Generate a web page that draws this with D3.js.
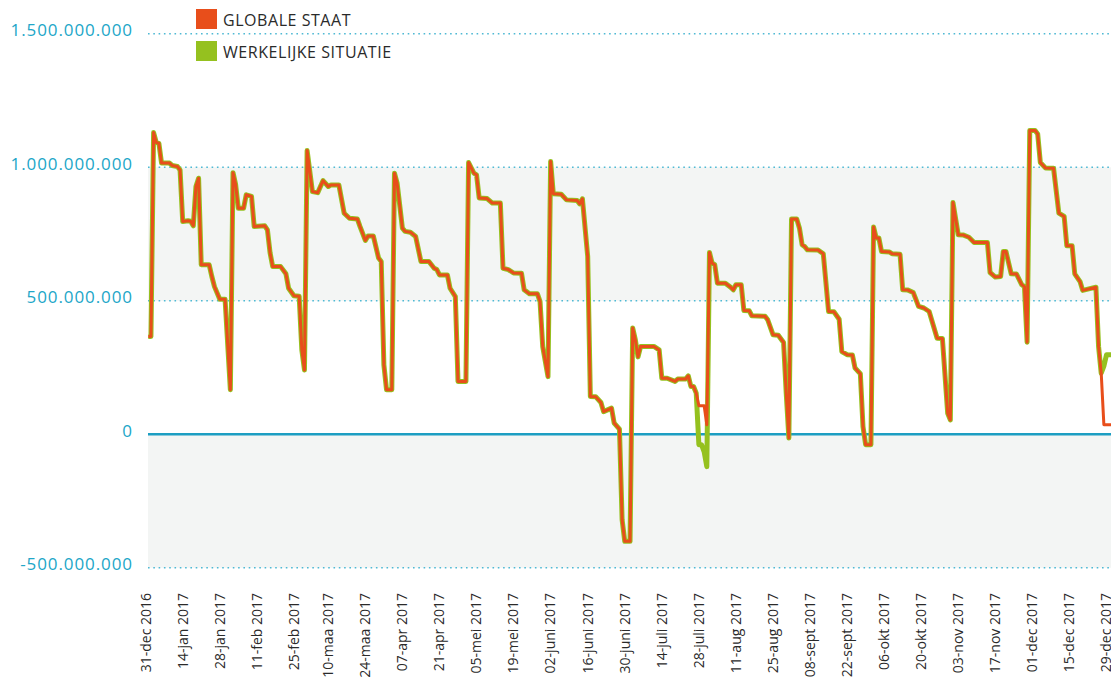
<!DOCTYPE html>
<html><head><meta charset="utf-8">
<script src="https://cdn.jsdelivr.net/npm/d3@7"></script>
<style>
html,body{margin:0;padding:0;background:#fff;overflow:hidden}
svg{display:block;font-family:"Open Sans",sans-serif}
</style></head><body>
<svg id="chart" width="1111" height="682"></svg>
<script>
// ---- DATA (values in millions) ----
const dates = [
"2016-12-31","2017-01-01","2017-01-02","2017-01-03","2017-01-04","2017-01-05","2017-01-08","2017-01-09","2017-01-11","2017-01-12",
"2017-01-13","2017-01-15","2017-01-16","2017-01-17","2017-01-18","2017-01-19","2017-01-20","2017-01-23","2017-01-24","2017-01-25",
"2017-01-27","2017-01-29","2017-01-31","2017-02-01","2017-02-02","2017-02-03","2017-02-05","2017-02-06","2017-02-08","2017-02-09",
"2017-02-13","2017-02-14","2017-02-15","2017-02-16","2017-02-19","2017-02-21","2017-02-22","2017-02-24","2017-02-26","2017-02-27",
"2017-02-28","2017-03-01","2017-03-03","2017-03-05","2017-03-07","2017-03-09","2017-03-10","2017-03-13","2017-03-15","2017-03-17",
"2017-03-20","2017-03-21","2017-03-23","2017-03-24","2017-03-26","2017-03-28","2017-03-29","2017-03-30","2017-03-31","2017-04-02",
"2017-04-03","2017-04-04","2017-04-06","2017-04-07","2017-04-09","2017-04-11","2017-04-13","2017-04-16","2017-04-18","2017-04-19",
"2017-04-20","2017-04-23","2017-04-24","2017-04-26","2017-04-27","2017-04-30","2017-05-01","2017-05-03","2017-05-04","2017-05-05",
"2017-05-08","2017-05-10","2017-05-13","2017-05-14","2017-05-16","2017-05-18","2017-05-21","2017-05-22","2017-05-24","2017-05-27",
"2017-05-28","2017-05-29","2017-05-31","2017-06-01","2017-06-02","2017-06-05","2017-06-07","2017-06-11","2017-06-12","2017-06-13",
"2017-06-15","2017-06-16","2017-06-18","2017-06-20","2017-06-21","2017-06-24","2017-06-25","2017-06-27","2017-06-28","2017-06-29",
"2017-07-01","2017-07-02","2017-07-03","2017-07-04","2017-07-05","2017-07-10","2017-07-12","2017-07-13","2017-07-15","2017-07-18",
"2017-07-19","2017-07-22","2017-07-23","2017-07-24","2017-07-25","2017-07-26","2017-07-27","2017-07-28","2017-07-29","2017-07-30",
"2017-07-31","2017-08-01","2017-08-02","2017-08-03","2017-08-06","2017-08-08","2017-08-09","2017-08-10","2017-08-12","2017-08-13",
"2017-08-15","2017-08-16","2017-08-21","2017-08-22","2017-08-24","2017-08-26","2017-08-28","2017-08-29","2017-08-30","2017-08-31",
"2017-09-02","2017-09-03","2017-09-04","2017-09-05","2017-09-06","2017-09-10","2017-09-12","2017-09-14","2017-09-16","2017-09-18",
"2017-09-19","2017-09-21","2017-09-23","2017-09-24","2017-09-26","2017-09-27","2017-09-28","2017-09-30","2017-10-01","2017-10-02",
"2017-10-03","2017-10-04","2017-10-07","2017-10-08","2017-10-11","2017-10-12","2017-10-14","2017-10-16","2017-10-18","2017-10-20",
"2017-10-22","2017-10-25","2017-10-27","2017-10-29","2017-10-30","2017-10-31","2017-11-02","2017-11-04","2017-11-06","2017-11-08",
"2017-11-13","2017-11-14","2017-11-16","2017-11-18","2017-11-19","2017-11-20","2017-11-22","2017-11-24","2017-11-26","2017-11-27",
"2017-11-28","2017-11-29","2017-12-01","2017-12-02","2017-12-03","2017-12-05","2017-12-08","2017-12-10","2017-12-12","2017-12-13",
"2017-12-15","2017-12-16","2017-12-18","2017-12-19","2017-12-24","2017-12-25","2017-12-26","2017-12-27","2017-12-28","2017-12-31"
];
const globaleStaat = [
366,366,1130,1093,1090,1016,1016,1007,1003,990,
797,800,798,781,928,959,635,635,591,553,
506,506,167,980,935,847,847,897,891,778,
781,766,680,628,628,601,547,519,517,316,
241,1063,909,905,950,928,934,934,828,809,
806,778,726,743,743,660,647,260,167,167,
978,941,772,760,757,741,647,647,622,617,
597,597,547,516,198,198,1018,978,972,885,
883,866,866,622,617,604,603,541,526,526,
497,329,216,1022,901,899,878,876,863,882,
666,142,141,119,85,98,42,19,-320,-401,
-401,398,354,290,329,329,316,210,210,198,
207,207,219,179,179,154,107,107,107,36,
681,641,635,566,566,551,541,560,560,464,
463,444,442,429,373,371,344,154,-14,806,
806,772,710,703,691,690,676,460,459,431,
310,298,297,248,227,29,-39,-39,776,735,
735,685,683,676,674,541,540,531,479,473,
460,360,359,79,54,868,747,746,738,718,
718,606,589,591,685,685,601,600,560,553,
345,1138,1138,1125,1018,997,996,828,816,706,
706,601,572,539,551,329,229,36,36,36
];
const werkelijkeSituatie = [
366,366,1130,1093,1090,1016,1016,1007,1003,990,
797,800,798,781,928,959,635,635,591,553,
506,506,167,980,935,847,847,897,891,778,
781,766,680,628,628,601,547,519,517,316,
241,1063,909,905,950,928,934,934,828,809,
806,778,726,743,743,660,647,260,167,167,
978,941,772,760,757,741,647,647,622,617,
597,597,547,516,198,198,1018,978,972,885,
883,866,866,622,617,604,603,541,526,526,
497,329,216,1022,901,899,878,876,863,882,
666,142,141,119,85,98,42,19,-320,-401,
-401,398,354,290,329,329,316,210,210,198,
207,207,219,179,179,154,-39,-39,-66,-121,
681,641,635,566,566,551,541,560,560,464,
463,444,442,429,373,371,344,154,-14,806,
806,772,710,703,691,690,676,460,459,431,
310,298,297,248,227,29,-39,-39,776,735,
735,685,683,676,674,541,540,531,479,473,
460,360,359,79,54,868,747,746,738,718,
718,606,589,591,685,685,601,600,560,553,
345,1138,1138,1125,1018,997,996,828,816,706,
706,601,572,539,551,329,229,255,298,298
];
const yTickValues = [-500, 0, 500, 1000, 1500];
const yTickLabels = ["-500.000.000","0","500.000.000","1.000.000.000","1.500.000.000"];
const xTickDates = ["2016-12-31","2017-01-14","2017-01-28","2017-02-11","2017-02-25","2017-03-10","2017-03-24","2017-04-07","2017-04-21","2017-05-05","2017-05-19","2017-06-02","2017-06-16","2017-06-30","2017-07-14","2017-07-28","2017-08-11","2017-08-25","2017-09-08","2017-09-22","2017-10-06","2017-10-20","2017-11-03","2017-11-17","2017-12-01","2017-12-15","2017-12-29"];
const xTickLabels = ["31-dec 2016","14-jan 2017","28-jan 2017","11-feb 2017","25-feb 2017","10-maa 2017","24-maa 2017","07-apr 2017","21-apr 2017","05-mei 2017","19-mei 2017","02-juni 2017","16-juni 2017","30-juni 2017","14-juli 2017","28-juli 2017","11-aug 2017","25-aug 2017","08-sept 2017","22-sept 2017","06-okt 2017","20-okt 2017","03-nov 2017","17-nov 2017","01-dec 2017","15-dec 2017","29-dec 2017"];
const seriesNames = ["GLOBALE STAAT","WERKELIJKE SITUATIE"];
const seriesColors = ["#e84e1b","#95c11f"];

// ---- CHART ----
const W = 1111, H = 682;
const svg = d3.select("#chart");
const parse = d3.utcParse("%Y-%m-%d");
const left = 148.3, pxPerDay = 2.647;
const x = d3.scaleUtc()
  .domain([parse("2016-12-31"), parse("2017-12-31")])
  .range([left, left + 365 * pxPerDay]);
const y = d3.scaleLinear().domain([-500, 1500]).range([567.8, 33.8]);

const plotLeft = 148, plotRight = W;

// alternating bands
const bands = [[1000, 500], [0, -500]];
svg.append("g").selectAll("rect").data(bands).join("rect")
  .attr("x", plotLeft).attr("width", plotRight - plotLeft)
  .attr("y", d => y(d[0])).attr("height", d => y(d[1]) - y(d[0]))
  .attr("fill", "#f3f5f4");

// dotted gridlines
svg.append("g").selectAll("line").data(yTickValues.filter(v => v !== 0)).join("line")
  .attr("x1", plotLeft).attr("x2", plotRight)
  .attr("y1", d => y(d)).attr("y2", d => y(d))
  .attr("stroke", "#4fb9d4").attr("stroke-width", 1.6)
  .attr("stroke-dasharray", "1.6,3.7");

// zero line
svg.append("line")
  .attr("x1", plotLeft).attr("x2", plotRight)
  .attr("y1", y(0)).attr("y2", y(0))
  .attr("stroke", "#1c9ec2").attr("stroke-width", 2.4);

// lines
const line = d3.line().x(d => x(d.date)).y(d => y(d.v));
const mk = arr => dates.map((s, i) => ({date: parse(s), v: arr[i]}));
svg.append("path").datum(mk(werkelijkeSituatie))
  .attr("d", line).attr("fill", "none")
  .attr("stroke", seriesColors[1]).attr("stroke-width", 5)
  .attr("stroke-linejoin", "round");
svg.append("path").datum(mk(globaleStaat))
  .attr("d", line).attr("fill", "none")
  .attr("stroke", seriesColors[0]).attr("stroke-width", 3)
  .attr("stroke-linejoin", "round");

// y axis labels
const yAxis = svg.append("g").attr("transform", "translate(132.9,0)")
  .call(d3.axisLeft(y).tickValues(yTickValues).tickFormat((d, i) => yTickLabels[i]).tickSize(0).tickPadding(0));
yAxis.select(".domain").remove();
yAxis.selectAll("text")
  .attr("fill", "#21a6c8").attr("font-size", 17).attr("letter-spacing", 0.9)
  .attr("font-family", "Open Sans").attr("dy", 1.7).attr("x", 0);

// x axis labels
const xAxis = svg.append("g").attr("transform", "translate(0,593)")
  .call(d3.axisBottom(x).tickValues(xTickDates.map(parse)).tickFormat((d, i) => xTickLabels[i]).tickSize(0));
xAxis.select(".domain").remove();
xAxis.selectAll("text")
  .attr("transform", "rotate(-90)")
  .attr("x", 0).attr("y", 0).attr("dy", 1.7)
  .attr("text-anchor", "end")
  .attr("fill", "#2a2a2a").attr("font-size", 14)
  .attr("font-family", "Open Sans");

// legend
const lg = svg.append("g");
seriesNames.forEach((name, i) => {
  lg.append("rect").attr("x", 196).attr("y", 9 + i * 32).attr("width", 21).attr("height", 20)
    .attr("fill", seriesColors[i]);
  lg.append("text").attr("x", 223).attr("y", 25.7 + i * 31.8).text(name)
    .attr("font-size", 16).attr("letter-spacing", 0.55).attr("fill", "#2a2a2a");
});
</script>
</body></html>
